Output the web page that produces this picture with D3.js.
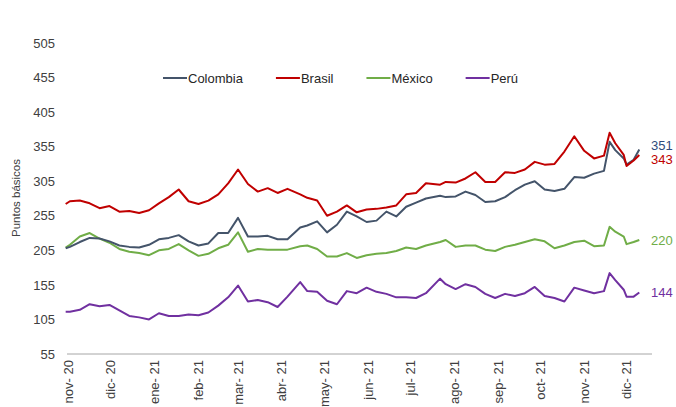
<!DOCTYPE html>
<html>
<head>
<meta charset="utf-8">
<script src="https://cdn.jsdelivr.net/npm/d3@7"></script>
<style>
  body { margin: 0; background: #fff; }
  text { font-family: "Liberation Sans", Arial, sans-serif; }
</style>
</head>
<body>
<svg id="chart" width="676" height="407"></svg>
<script>
// data (weekly-ish samples)
const dates = ['2020-10-30','2020-11-02','2020-11-09','2020-11-16','2020-11-23','2020-11-30','2020-12-07','2020-12-14','2020-12-21','2020-12-28',
  '2021-01-04','2021-01-11','2021-01-18','2021-01-25','2021-02-01','2021-02-08','2021-02-15','2021-02-22','2021-03-01','2021-03-08',
  '2021-03-15','2021-03-22','2021-03-29','2021-04-05','2021-04-14','2021-04-19','2021-04-26','2021-05-03','2021-05-10','2021-05-17',
  '2021-05-24','2021-05-31','2021-06-07','2021-06-14','2021-06-21','2021-06-28','2021-07-05','2021-07-12','2021-07-22','2021-07-26',
  '2021-08-02','2021-08-09','2021-08-16','2021-08-23','2021-08-30','2021-09-06','2021-09-13','2021-09-20','2021-09-27','2021-10-04',
  '2021-10-11','2021-10-18','2021-10-25','2021-11-01','2021-11-08','2021-11-15','2021-11-19','2021-11-23','2021-11-29','2021-12-01',
  '2021-12-06','2021-12-10'];
const brasil = [272,276,277,273,266,269,261,262,259,263, 273,282,293,276,272,277,286,302,322,301,
  290,295,288,294,286,281,277,255,261,270, 260,264,265,267,270,286,288,302,300,304,
  303,309,318,304,304,318,317,322,333,329, 330,348,370,349,338,342,375,360,343,327, 335,343];
const colombia = [208,210,217,223,222,218,212,210,209,213, 221,223,227,218,212,215,230,230,252,225,
  225,226,221,221,238,241,247,231,242,261, 254,246,248,261,254,268,274,280,284,282,
  283,290,285,275,276,282,292,300,305,293, 291,294,311,310,316,320,362,350,338,329, 336,351];
const mexico = [209,213,225,230,222,216,207,203,201,198, 205,207,214,205,197,200,208,213,231,203,
  207,206,206,206,211,212,207,196,196,201, 194,198,200,201,204,209,207,212,217,220,
  210,212,212,206,204,210,213,217,221,218, 208,212,217,219,211,212,239,232,225,214, 217,220];
const peru = [116,116,119,127,124,126,118,110,108,105, 114,110,110,112,111,115,125,137,154,131,
  133,130,123,138,159,146,145,132,127,146, 143,151,145,142,137,137,136,143,164,156,
  149,156,152,142,136,142,139,143,152,139, 136,131,151,147,143,146,172,162,148,138, 138,144];

const seriesNames = ['Colombia', 'Brasil', 'México', 'Perú'];
const seriesColors = ['#44546A', '#C00000', '#70AD47', '#7030A0'];
const labelColors = ['#2F4B7C', '#C00000', '#70AD47', '#7030A0'];
const yTicks = [55, 105, 155, 205, 255, 305, 355, 405, 455, 505];
const monthTicks = ['2020-11-01','2020-12-01','2021-01-01','2021-02-01','2021-03-01','2021-04-01','2021-05-01',
  '2021-06-01','2021-07-01','2021-08-01','2021-09-01','2021-10-01','2021-11-01','2021-12-01'];
const monthNames = ['ene','feb','mar','abr','may','jun','jul','ago','sep','oct','nov','dic'];

const parse = d3.timeParse('%Y-%m-%d');
const allSeries = [colombia, brasil, mexico, peru];

const svg = d3.select('#chart');

const x = d3.scaleTime()
    .domain([parse('2020-11-01'), parse('2021-12-19')])
    .range([68.5, 652]);
const y = d3.scaleLinear()
    .domain([55, 505])
    .range([354, 43]);

// y tick labels, no axis line
const yAxis = svg.append('g')
    .attr('transform', 'translate(55,0)')
    .call(d3.axisLeft(y).tickValues(yTicks).tickSize(0).tickPadding(0));
yAxis.select('.domain').remove();
yAxis.selectAll('text')
    .attr('font-size', 13)
    .attr('fill', '#404040')
    .attr('font-family', '"Liberation Sans", Arial, sans-serif');

// x axis: baseline plus rotated month labels
svg.append('line')
    .attr('x1', 67).attr('x2', 652)
    .attr('y1', y(55)).attr('y2', y(55))
    .attr('stroke', '#A6A6A6')
    .attr('stroke-width', 1);

svg.append('g')
    .selectAll('text')
    .data(monthTicks)
    .enter()
    .append('text')
    .attr('transform', d => `translate(${x(parse(d))},360) rotate(-90)`)
    .attr('text-anchor', 'end')
    .attr('dy', '.35em')
    .attr('font-size', 13)
    .attr('fill', '#404040')
    .text(d => {
        const dt = parse(d);
        return monthNames[dt.getMonth()] + '- ' + String(dt.getFullYear()).slice(2);
    });

// y title
svg.append('text')
    .attr('transform', 'translate(16,198) rotate(-90)')
    .attr('text-anchor', 'middle')
    .attr('dy', '.35em')
    .attr('font-size', 11.5)
    .attr('fill', '#404040')
    .text('Puntos básicos');

// lines
const line = d3.line()
    .x((d, i) => x(parse(dates[i])))
    .y(d => y(d));

// draw order: Perú, México, Colombia, Brasil on top
[3, 2, 0, 1].forEach(k => {
    svg.append('path')
        .datum(allSeries[k])
        .attr('fill', 'none')
        .attr('stroke', seriesColors[k])
        .attr('stroke-width', 2)
        .attr('stroke-linejoin', 'round')
        .attr('d', line);
});

// end labels, nudged apart when they collide
const last = dates.length - 1;
let endLabels = allSeries.map((s, k) => ({ k: k, v: s[last], y: y(s[last]) }));
endLabels.sort((a, b) => a.y - b.y);
for (let i = 1; i < endLabels.length; i++) {
    const gap = endLabels[i].y - endLabels[i - 1].y;
    if (gap < 14) {
        const push = (14 - gap) / 2;
        endLabels[i - 1].y -= push;
        endLabels[i].y += push;
    }
}
svg.append('g')
    .selectAll('text')
    .data(endLabels)
    .enter()
    .append('text')
    .attr('x', 651)
    .attr('y', d => d.y)
    .attr('dy', '.35em')
    .attr('font-size', 13)
    .attr('fill', d => labelColors[d.k])
    .text(d => d.v);

// legend
let legendX = 163;
const legendY = 78;
seriesNames.forEach((name, k) => {
    const g = svg.append('g').attr('transform', `translate(${legendX},${legendY})`);
    g.append('line')
        .attr('x1', 0).attr('x2', 24)
        .attr('y1', 0).attr('y2', 0)
        .attr('stroke', seriesColors[k])
        .attr('stroke-width', 2);
    const t = g.append('text')
        .attr('x', 25)
        .attr('dy', '.35em')
        .attr('font-size', 13)
        .attr('fill', '#262626')
        .text(name);
    legendX += 25 + t.node().getComputedTextLength() + 33;
});
</script>
</body>
</html>
